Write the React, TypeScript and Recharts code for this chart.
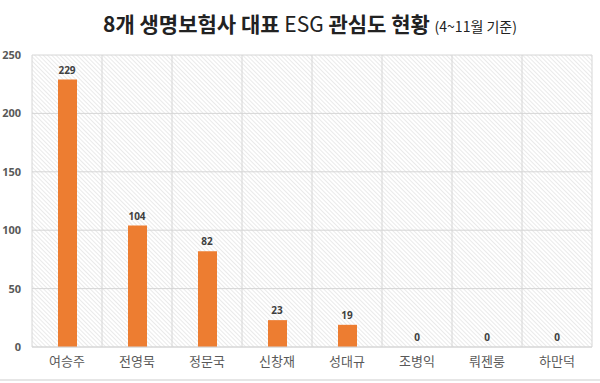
import React from 'react';
import { ComposedChart, Bar, Line, XAxis, YAxis, CartesianGrid, LabelList } from 'recharts';

const names = ['여승주', '전영묵', '정문국', '신창재', '성대규', '조병익', '뤄젠룽', '하만덕'];
const counts = [229, 104, 82, 23, 19, 0, 0, 0];
const yTicks = [0, 50, 100, 150, 200, 250];

const data = names.map((name, i) => ({ name, value: counts[i] }));

export default function App() {
  return (
    <div style={{ position: 'absolute', left: 0, top: 0, width: 600, height: 383, background: '#fff', overflow: 'hidden' }}>
      <div
        style={{
          position: 'absolute',
          left: 10,
          top: 8,
          width: 600,
          textAlign: 'center',
          fontFamily: '"Noto Sans CJK KR", "Noto Sans", sans-serif',
          color: '#222',
          whiteSpace: 'nowrap',
          lineHeight: '30px',
        }}
      >
        <span style={{ fontSize: 21, fontWeight: 700 }}>8개 생명보험사 대표 </span>
        <span style={{ fontSize: 21, fontWeight: 400 }}>ESG</span>
        <span style={{ fontSize: 21, fontWeight: 700 }}> 관심도 현황 </span>
        <span style={{ fontSize: 14, fontWeight: 400 }}>(4~11월 기준)</span>
      </div>
      <div style={{ position: 'absolute', left: 0, top: 0 }}>
        <ComposedChart
          width={600}
          height={383}
          data={data}
          margin={{ top: 55, right: 8, bottom: 6, left: 0 }}
          barSize={19}
        >
          <defs>
            <pattern id="hatch" width="3" height="3" patternUnits="userSpaceOnUse" patternTransform="rotate(-45)">
              <rect width="3" height="3" fill="#ffffff" />
              <line x1="0" y1="0" x2="0" y2="3" stroke="#dcdcdc" strokeWidth="1.2" />
            </pattern>
          </defs>
          <CartesianGrid
            stroke="#d6d6d6"
            fill="url(#hatch)"
            fillOpacity={1}
            verticalCoordinatesGenerator={({ offset }: any) =>
              Array.from({ length: names.length + 1 }, (_, i) => offset.left + (i * offset.width) / names.length)
            }
          />
          <XAxis
            dataKey="name"
            height={30}
            tickLine={false}
            tickSize={0}
            tickMargin={10}
            axisLine={{ stroke: '#d6d6d6' }}
            tick={{ fontSize: 13, fill: '#595959', fontFamily: '"Noto Sans CJK KR", sans-serif' }}
            interval={0}
          />
          <YAxis
            width={32}
            domain={[0, 250]}
            ticks={yTicks}
            tickLine={false}
            axisLine={false}
            tickSize={0}
            tickMargin={11}
            tick={{ fontSize: 11, fill: '#595959', fontWeight: 700, fontFamily: '"Open Sans", "Noto Sans", sans-serif' }}
          />
          <Bar dataKey="value" fill="#ED7D31" isAnimationActive={false} />
          <Line
            dataKey="value"
            stroke="none"
            dot={false}
            activeDot={false}
            legendType="none"
            isAnimationActive={false}
          >
            <LabelList
              dataKey="value"
              position="top"
              offset={6}
              style={{ fontSize: 10, fontWeight: 700, fill: '#404040', fontFamily: '"Open Sans", "Noto Sans", sans-serif' }}
            />
          </Line>
        </ComposedChart>
      </div>
      <div style={{ position: 'absolute', left: 0, top: 379, width: 600, height: 2, background: '#e6e6e6' }} />
    </div>
  );
}
